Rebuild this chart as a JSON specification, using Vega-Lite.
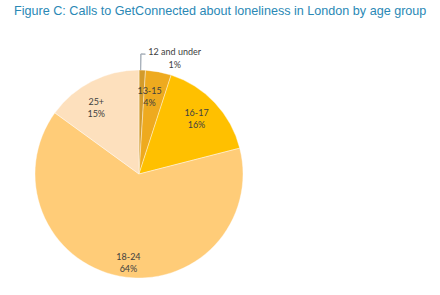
{
  "$schema": "https://vega.github.io/schema/vega-lite/v6.json",
  "autosize": "none",
  "width": 278,
  "height": 242,
  "padding": {"left": 0, "top": 53, "right": 162, "bottom": 0},
  "background": "white",
  "title": {
    "text": "Figure C: Calls to GetConnected about loneliness in London by age group",
    "anchor": "start",
    "frame": "group",
    "dx": 14,
    "offset": 30,
    "font": "Liberation Sans",
    "fontSize": 12.6,
    "fontWeight": "normal",
    "color": "#2A88B5"
  },
  "config": {"view": {"stroke": null}},
  "data": {
    "values": [
      {"age": "12 and under", "value": 1, "label": "12 and under\n1%"},
      {"age": "13-15", "value": 4, "label": "13-15\n4%"},
      {"age": "16-17", "value": 16, "label": "16-17\n16%"},
      {"age": "18-24", "value": 64, "label": "18-24\n64%"},
      {"age": "25+", "value": 15, "label": "25+\n15%"}
    ]
  },
  "layer": [
    {
      "mark": {"type": "arc", "outerRadius": 104, "stroke": "#ffffff", "strokeWidth": 0.4},
      "encoding": {
        "theta": {"field": "value", "type": "quantitative", "stack": true},
        "order": {"field": "age", "sort": "ascending"},
        "color": {
          "field": "age",
          "type": "nominal",
          "scale": {
            "domain": ["12 and under", "13-15", "16-17", "18-24", "25+"],
            "range": ["#D39B2B", "#EEAA1F", "#FFC000", "#FFCC78", "#FDE0BD"]
          },
          "legend": null
        }
      }
    },
    {
      "transform": [{"filter": "datum.age !== '12 and under'"}],
      "mark": {"type": "text", "radius": 84, "align": "center", "baseline": "middle", "lineBreak": "\n", "lineHeight": 12, "font": "Lato", "fontSize": 9, "color": "#404040"},
      "encoding": {
        "theta": {"field": "value", "type": "quantitative", "stack": true},
        "order": {"field": "age", "sort": "ascending"},
        "text": {"field": "label"}
      }
    },
    {
      "transform": [{"filter": "datum.age === '12 and under'"}],
      "mark": {"type": "text", "radius": 117, "dx": 32, "dy": -5, "align": "center", "baseline": "middle", "lineBreak": "\n", "lineHeight": 13, "font": "Lato", "fontSize": 9, "color": "#404040"},
      "encoding": {
        "theta": {"field": "value", "type": "quantitative", "stack": true},
        "order": {"field": "age", "sort": "ascending"},
        "text": {"field": "label"}
      }
    },
    {
      "data": {"values": [{"seg": "radial"}]},
      "mark": {"type": "arc", "fillOpacity": 0, "stroke": "#A7B0BA", "strokeWidth": 1},
      "encoding": {
        "theta": {"datum": 0.25, "type": "quantitative"},
        "theta2": {"datum": 0.25},
        "radius": {"value": 104},
        "radius2": {"value": 120}
      }
    },
    {
      "data": {"values": [{"seg": "horizontal"}]},
      "mark": {"type": "arc", "fillOpacity": 0, "stroke": "#A7B0BA", "strokeWidth": 1},
      "encoding": {
        "theta": {"datum": 0.25, "type": "quantitative"},
        "theta2": {"datum": 0.85},
        "radius": {"value": 120},
        "radius2": {"value": 120}
      }
    }
  ]
}
